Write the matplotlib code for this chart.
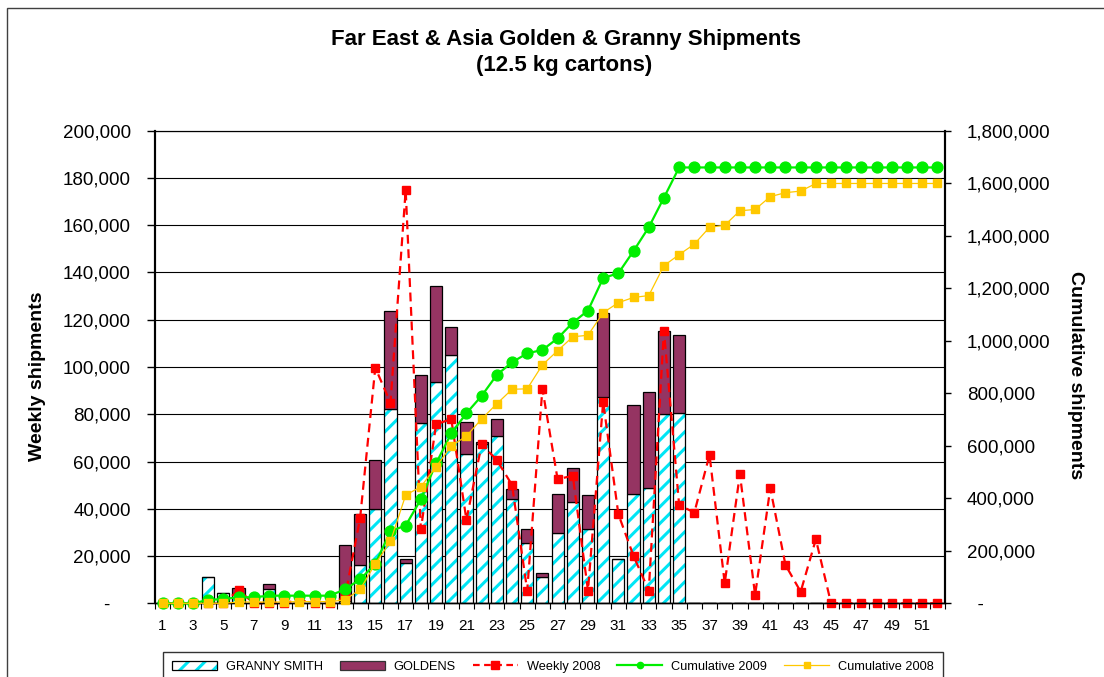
import matplotlib
matplotlib.use('Agg')
import matplotlib.pyplot as plt
from matplotlib.patches import Patch, Rectangle
from matplotlib.lines import Line2D
from matplotlib.ticker import FuncFormatter, FixedLocator

plt.rcParams['font.family'] = ['Liberation Sans', 'DejaVu Sans']
plt.rcParams['hatch.linewidth'] = 2.2

### data ###
weeks = list(range(1, 53))
granny = [0, 0, 0, 11300, 4500, 4000, 0, 5900, 0, 0, 0, 0, 1000, 16200, 39800,
          82100, 16900, 76200, 93500, 104900, 63000, 67500, 70800, 44000, 25700,
          11000, 29900, 42700, 31300, 87200, 18600, 46300, 48900, 80000, 80700] + [0] * 17
goldens = [0, 0, 0, 0, 0, 2300, 0, 2300, 0, 0, 0, 0, 23700, 21500, 20700,
           41700, 1700, 20600, 40600, 12200, 13600, 800, 7300, 4500, 5600,
           1700, 16500, 14700, 14500, 35500, 0, 37500, 40700, 35400, 32700] + [0] * 17
weekly_2008 = [0, 0, 0, 0, 0, 5600, 0, 0, 0, 1500, 0, 0, 2500, 36000, 99700,
               84900, 174900, 31300, 75700, 78000, 35300, 67300, 60600, 50100, 5400,
               90800, 52500, 54000, 5400, 85300, 37700, 20000, 5400, 115400, 41600,
               38400, 62800, 8500, 54700, 3500, 48700, 16200, 4900, 27100] + [0] * 8
cum_2009 = [0, 0, 0, 12700, 16500, 22800, 23000, 29000, 29000, 29000, 29000, 29000,
            53000, 91000, 150000, 275000, 296000, 396000, 533000, 647000, 724000,
            790000, 870000, 918000, 952000, 965000, 1009000, 1069000, 1115000,
            1239000, 1257000, 1342000, 1432000, 1545000, 1660000] + [1660000] * 17
cum_2008 = [0, 0, 0, 0, 0, 5000, 5000, 5000, 5000, 6500, 6500, 6500, 12700, 53000,
            150000, 236000, 412000, 444000, 520000, 599000, 637000, 702000, 760000,
            815000, 817000, 908000, 962000, 1015000, 1021000, 1107000, 1145000,
            1165000, 1172000, 1286000, 1328000, 1368000, 1432000, 1440000, 1495000,
            1500000, 1549000, 1564000, 1570000, 1599000] + [1599000] * 8

CYAN = '#00E5F5'
PLUM = '#953462'
RED = '#FF0000'
GREEN = '#00EE00'
YELLOW = '#FFC800'


def thousands(v, pos, zero):
    if v == 0:
        return zero
    return '{:,.0f}'.format(v)


fig = plt.figure(figsize=(11.04, 6.77), dpi=100)
ax = fig.add_axes([155 / 1104, 1 - 603.3 / 677, 790 / 1104, 472.6 / 677])
ax2 = ax.twinx()

# chart area border (only top/left visible in the crop)
fig.patches.append(Rectangle((7 / 1104, -0.2), 1.2, 1.2 - 8 / 677,
                             transform=fig.transFigure, fill=False,
                             edgecolor='#404040', lw=1.0))

# bars
w = 0.8
ax.bar(weeks, granny, width=w, color='white', edgecolor=CYAN, hatch='//', lw=0, zorder=2)
ax.bar(weeks, granny, width=w, fill=False, edgecolor='black', lw=0.9, zorder=3)
ax.bar(weeks, goldens, bottom=granny, width=w, color=PLUM, edgecolor='black', lw=0.9, zorder=3)

ax.plot(weeks, weekly_2008, color=RED, lw=1.6, dashes=(4, 2.5), marker='s', ms=6,
        zorder=4, clip_on=False)

ax2.plot(weeks, cum_2009, color=GREEN, lw=1.6, marker='o', ms=7.8, zorder=4, clip_on=False)
ax2.plot(weeks, cum_2008, color=YELLOW, lw=0.9, marker='s', ms=5.6, zorder=5, clip_on=False)

ax.set_xlim(0.5, 52.5)
ax.set_ylim(0, 200000)
ax2.set_ylim(0, 1800000)

ax.set_yticks(range(0, 200001, 20000))
ax2.set_yticks(range(0, 1800001, 200000))
ax.yaxis.set_major_formatter(FuncFormatter(lambda v, p: thousands(v, p, '-    ')))
ax2.yaxis.set_major_formatter(FuncFormatter(lambda v, p: thousands(v, p, '  -')))
ax.grid(axis='y', color='black', lw=0.8, zorder=0)
ax.set_axisbelow(True)

ax.xaxis.set_major_locator(FixedLocator(list(range(1, 53, 2))))
ax.xaxis.set_minor_locator(FixedLocator([i + 0.5 for i in range(0, 53)]))
ax.tick_params(axis='x', which='major', length=0, labelsize=11, pad=11)
ax.tick_params(axis='x', which='minor', length=4, width=0.8, direction='out')
ax.tick_params(axis='y', which='major', length=5.8, width=1, labelsize=13.5, pad=11.5)
ax2.tick_params(axis='y', which='major', length=4.3, width=1, labelsize=13.5, pad=11.5)

for a in (ax, ax2):
    for s in a.spines.values():
        s.set_color('black')
    a.spines['left'].set_linewidth(1.5)
    a.spines['right'].set_linewidth(1.5)
    a.spines['bottom'].set_linewidth(1.0)
    a.spines['top'].set_linewidth(0.8)

ax.set_ylabel('Weekly shipments', fontsize=14, fontweight='bold')
ax.yaxis.set_label_coords(-0.138, 0.48)
ax2.set_ylabel('Cumulative shipments', fontsize=14, fontweight='bold', rotation=270)
ax2.yaxis.set_label_coords(1.176, 0.483)

fig.text(566 / 1104, 1 - 40 / 677, 'Far East & Asia Golden & Granny Shipments',
         ha='center', va='center', fontsize=16, fontweight='bold')
fig.text(564 / 1104, 1 - 66 / 677, '(12.5 kg cartons)',
         ha='center', va='center', fontsize=16, fontweight='bold')

handles = [
    (Patch(facecolor='white', edgecolor=CYAN, hatch='//', lw=0),
     Patch(fill=False, edgecolor='black', lw=0.9)),
    Patch(facecolor=PLUM, edgecolor='#333333', lw=0.9),
    Line2D([], [], color=RED, lw=1.6, dashes=(3, 2), marker='s', ms=6),
    Line2D([], [], color=GREEN, lw=1.6, marker='o', ms=4.5),
    Line2D([], [], color=YELLOW, lw=0.9, marker='s', ms=5),
]
labels = ['GRANNY SMITH', 'GOLDENS', 'Weekly 2008', 'Cumulative 2009', 'Cumulative 2008']
leg = fig.legend(handles, labels, loc='upper left', ncol=5,
                 bbox_to_anchor=(163 / 1104, 1 - 652 / 677), borderaxespad=0,
                 frameon=True, fancybox=False, edgecolor='black', fontsize=9.2,
                 handlelength=3.5, handletextpad=0.7, columnspacing=1.35,
                 borderpad=0.7, numpoints=1)
leg.get_frame().set_linewidth(1.0)

fig.savefig('out.png', dpi=100)
